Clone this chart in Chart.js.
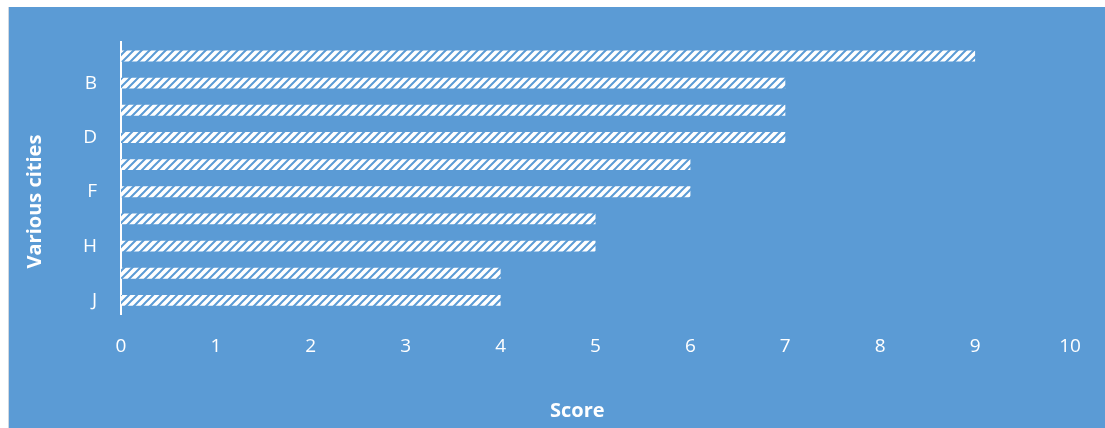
<!DOCTYPE html>
<html>
<head>
<meta charset="utf-8">
<script src="https://cdn.jsdelivr.net/npm/chart.js@4"></script>
<style>
  body { margin: 0; background: #fff; }
  #wrap {
    position: absolute; left: 8px; top: 7px;
    width: 1097px; height: 421px;
    background: #5b9bd5;
    border-left: 1px solid #d0d7e0;
  }
</style>
</head>
<body>
<div id="wrap"><canvas id="chart" width="1096" height="421"></canvas></div>
<script>
// data
const cities = ['A', 'B', 'C', 'D', 'E', 'F', 'G', 'H', 'I', 'J'];
const scores = [9, 7, 7, 7, 6, 6, 5, 5, 4, 4];
const xMin = 0;
const xMax = 10;

// white bar with blue "/" hatching
function makeHatch() {
    const c = document.createElement('canvas');
    c.width = 8; c.height = 8;
    const p = c.getContext('2d');
    p.fillStyle = '#ffffff';
    p.fillRect(0, 0, 8, 8);
    p.strokeStyle = '#5b9bd5';
    p.lineWidth = 2;
    p.beginPath();
    p.moveTo(-2, 10); p.lineTo(10, -2);
    p.moveTo(-2, 2); p.lineTo(2, -2);
    p.moveTo(6, 10); p.lineTo(10, 6);
    p.stroke();
    return p.createPattern(c, 'repeat');
}

const ctx = document.getElementById('chart').getContext('2d');
new Chart(ctx, {
    type: 'bar',
    data: {
        labels: cities,
        datasets: [{
            label: 'Score',
            data: scores,
            backgroundColor: makeHatch(),
            borderWidth: 0,
            barPercentage: 0.4,
            categoryPercentage: 1.0,
        }]
    },
    options: {
        indexAxis: 'y',
        responsive: false,
        animation: false,
        layout: { padding: { top: 30, right: 35, left: 0, bottom: 0 } },
        plugins: {
            legend: { display: false },
            tooltip: { enabled: false }
        },
        scales: {
            x: {
                min: xMin,
                max: xMax,
                grid: { display: false, drawTicks: false },
                border: { display: false },
                ticks: {
                    stepSize: 1,
                    color: '#ffffff',
                    padding: 21,
                    font: { family: 'Open Sans', size: 19 }
                },
                title: {
                    display: true,
                    // trailing spaces nudge the title left, like the original
                    text: 'Score       ',
                    color: '#ffffff',
                    padding: { top: 0, bottom: 5 },
                    font: { family: 'Open Sans', size: 20, weight: 'bold' }
                },
                afterFit: s => { s.height = 114; }
            },
            y: {
                grid: { display: false, drawTicks: false },
                border: { display: true, color: '#ffffff', width: 2 },
                ticks: {
                    color: '#ffffff',
                    padding: 24,
                    autoSkip: false,
                    font: { family: 'Open Sans', size: 19 },
                    callback: (v, i) => (i % 2 === 1 ? cities[i] : '')
                },
                title: {
                    display: true,
                    // trailing spaces push the rotated title down a bit
                    text: 'Various cities         ',
                    color: '#ffffff',
                    padding: { top: 14, bottom: 0 },
                    font: { family: 'Open Sans', size: 20, weight: 'bold' }
                },
                afterFit: s => { s.width = 112; }
            }
        }
    }
});
</script>
</body>
</html>
